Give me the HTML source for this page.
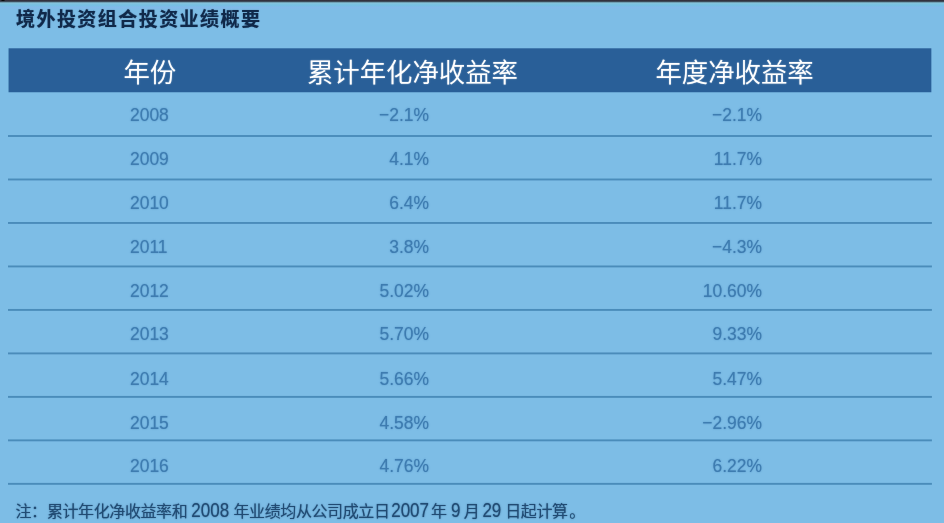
<!DOCTYPE html>
<html lang="zh-CN">
<head>
<meta charset="utf-8">
<title>境外投资组合投资业绩概要</title>
<style>
html,body{margin:0;padding:0;width:944px;height:523px;overflow:hidden;background:#7dbde6;}
.page{width:944px;height:523px;background:#7dbde6;overflow:hidden;position:relative;font-family:"Liberation Sans","Noto Sans CJK SC",sans-serif;}
.topbar{position:absolute;left:0;top:0;width:944px;height:10px;background:linear-gradient(to bottom,#38313f 0,#2c2f3c 1.2px,#5f8296 2.1px,#86c3db 3px,#76c0e3 5px,#82b9e9 7.5px,#7dbde6 10px);}
.title{position:absolute;left:16px;top:5px;font-size:19px;letter-spacing:1.45px;line-height:30px;font-weight:bold;color:#10294a;white-space:nowrap;-webkit-text-stroke:0.12px #10294a;}
.head{position:absolute;left:8.4px;top:48px;width:923px;height:44.3px;color:#fff;font-size:26.4px;line-height:44px;font-weight:350;}
.head span{position:absolute;top:2.5px;white-space:nowrap;}
.row{text-shadow:0 0 1.5px rgba(63,125,180,.8);}
.note{text-shadow:0 0 1.5px rgba(33,75,115,.8);}
.head{text-shadow:0 0 1.5px rgba(255,255,255,.6);}
.title{text-shadow:0 0 1.2px rgba(16,41,74,.45);}
.spot{position:absolute;left:0;top:0;width:6px;height:2px;background:radial-gradient(ellipse 2.5px 1.2px at 3px 0,#000 0,rgba(0,0,0,.8) 50%,rgba(0,0,0,0) 100%);}
.bg{position:absolute;left:0;top:0;width:944px;height:523px;}
.row{position:absolute;left:0;width:944px;height:42px;color:#3e7cb0;font-size:17.45px;line-height:42px;}
.row span{position:absolute;top:0;white-space:nowrap;transform:scaleY(1.06);transform-origin:50% 50%;}
.c1{left:130px;}
.c2{right:515px;}
.c3{right:182px;}
.note{position:absolute;left:0;top:500px;width:944px;height:24px;color:#214b73;white-space:nowrap;}
.note span{position:absolute;top:0;line-height:24px;white-space:nowrap;transform-origin:0 50%;}
.note .z{font-size:16px;letter-spacing:-0.4px;transform:scaleY(0.96);}
.note .n{font-size:17px;top:-1.4px;transform:scaleY(1.16);}
</style>
</head>
<body>
<div class="page">
<div class="topbar"></div>
<div class="spot"></div>
<svg class="bg" width="944" height="523" viewBox="0 0 944 523"><rect x="8.55" y="48.3" width="922.8" height="43.95" fill="#295f98"/><g fill="#4a8cba"><rect x="8" y="135.05" width="923.9" height="1.9"/><rect x="8" y="178.53" width="923.9" height="1.9"/><rect x="8" y="222.01" width="923.9" height="1.9"/><rect x="8" y="265.49" width="923.9" height="1.9"/><rect x="8" y="308.97" width="923.9" height="1.9"/><rect x="8" y="352.45" width="923.9" height="1.9"/><rect x="8" y="395.93" width="923.9" height="1.9"/><rect x="8" y="439.41" width="923.9" height="1.9"/><rect x="8" y="482.89" width="923.9" height="1.9"/></g></svg>
<div class="title">境外投资组合投资业绩概要</div>
<div class="head"><span style="left:115px">年份</span><span style="left:298.5px">累计年化净收益率</span><span style="left:647px">年度净收益率</span></div>
<div class="row" style="top:93.90px"><span class="c1">2008</span><span class="c2">−2.1%</span><span class="c3">−2.1%</span></div>
<div class="row" style="top:138.10px"><span class="c1">2009</span><span class="c2">4.1%</span><span class="c3">11.7%</span></div>
<div class="row" style="top:181.90px"><span class="c1">2010</span><span class="c2">6.4%</span><span class="c3">11.7%</span></div>
<div class="row" style="top:226.00px"><span class="c1">2011</span><span class="c2">3.8%</span><span class="c3">−4.3%</span></div>
<div class="row" style="top:270.10px"><span class="c1">2012</span><span class="c2">5.02%</span><span class="c3">10.60%</span></div>
<div class="row" style="top:313.30px"><span class="c1">2013</span><span class="c2">5.70%</span><span class="c3">9.33%</span></div>
<div class="row" style="top:357.75px"><span class="c1">2014</span><span class="c2">5.66%</span><span class="c3">5.47%</span></div>
<div class="row" style="top:401.70px"><span class="c1">2015</span><span class="c2">4.58%</span><span class="c3">−2.96%</span></div>
<div class="row" style="top:445.40px"><span class="c1">2016</span><span class="c2">4.76%</span><span class="c3">6.22%</span></div>
<div class="note"><span class="z" style="left:15.50px">注：</span><span class="z" style="left:46.90px">累计年化净收益率和 </span><span class="n" style="left:191.30px">2008 </span><span class="z" style="left:233.50px">年业绩均从公司成立日 </span><span class="n" style="left:391.20px">2007 </span><span class="z" style="left:431.10px">年 </span><span class="n" style="left:451.10px">9 </span><span class="z" style="left:463.80px">月 </span><span class="n" style="left:482.40px">29 </span><span class="z" style="left:505.20px">日起计算</span><span class="z" style="left:569.20px">。</span></div>
</div>
</body>
</html>
